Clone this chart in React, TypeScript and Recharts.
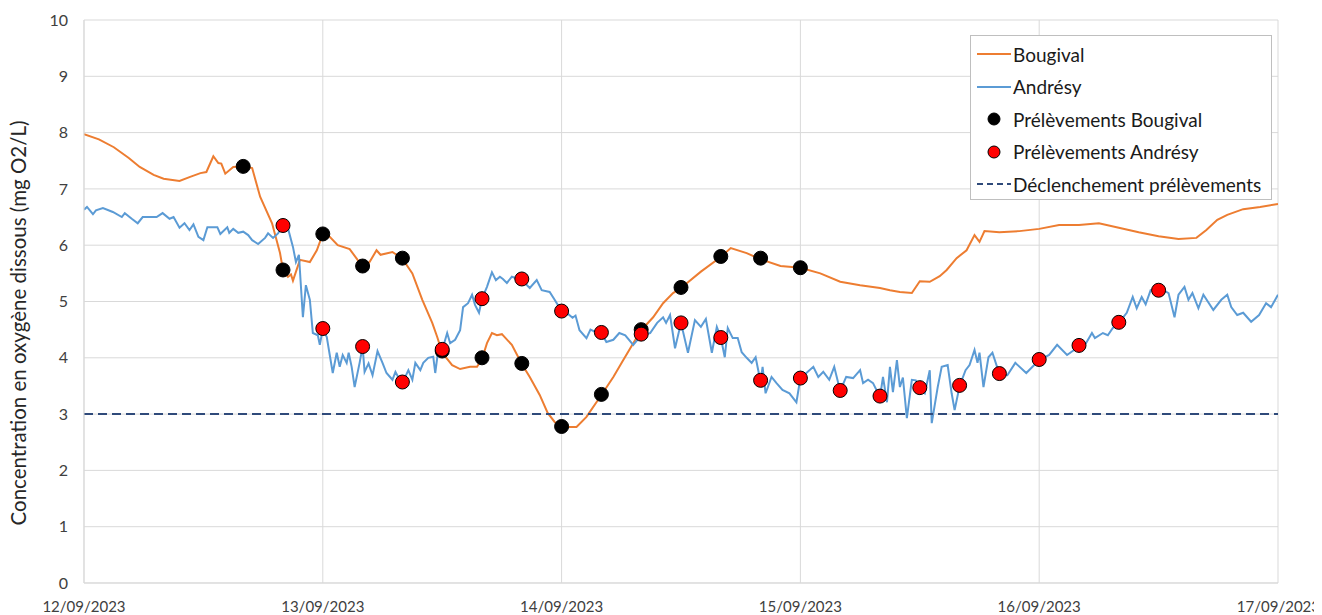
import React from 'react';
import {
  ComposedChart, Line, Scatter, XAxis, YAxis, CartesianGrid,
} from 'recharts';

// hours since 12/09/2023 00:00
const dayTicks = [0, 24, 48, 72, 96, 120];
const dayLabels = ['12/09/2023', '13/09/2023', '14/09/2023', '15/09/2023', '16/09/2023', '17/09/2023'];
const yTicks = [0, 1, 2, 3, 4, 5, 6, 7, 8, 9, 10];

const bougivalHours = [
  0, 1.5, 3, 4.5, 5.6, 7, 8, 9.6, 10.6, 11.7, 12.3, 13, 13.5, 13.8, 14.2, 15, 16, 16.9, 17.7, 18.9,
  19.7, 20, 20.5, 20.8, 21, 21.7, 22.7, 23.4, 24, 24.7, 25.5, 26.7, 28, 28.7, 29.4, 29.8, 31, 32, 33, 34,
  35, 35.5, 36, 37, 37.8, 38.8, 39.5, 40, 40.5, 41, 41.5, 42, 43, 44, 44.8, 45.8, 46.6, 47.3, 48, 49.5,
  50.5, 52, 53.2, 54.2, 55.2, 56, 57.2, 58.2, 59.2, 60, 62, 64, 65, 66.6, 68, 70, 72, 74, 76, 78,
  80, 81, 82, 83.2, 84, 85, 86, 86.7, 87.7, 88.7, 89.5, 90, 90.5, 92, 94, 96, 98, 100, 102, 104,
  106, 108, 110, 111.8, 112.8, 113.9, 114.9, 116.5, 118.2, 120,
];
const bougivalValues = [
  7.97, 7.88, 7.74, 7.55, 7.39, 7.25, 7.18, 7.14, 7.21, 7.28, 7.3, 7.58, 7.46, 7.45, 7.27, 7.39, 7.4, 7.37, 6.86, 6.39,
  5.86, 5.56, 5.44, 5.48, 5.37, 5.74, 5.7, 5.91, 6.2, 6.15, 6.0, 5.93, 5.62, 5.7, 5.91, 5.83, 5.88, 5.76, 5.5, 5.03,
  4.62, 4.37, 4.09, 3.87, 3.8, 3.84, 3.84, 3.98, 4.26, 4.44, 4.4, 4.42, 4.23, 3.89, 3.66, 3.34, 3.02, 2.86, 2.77, 2.77,
  2.95, 3.34, 3.66, 3.96, 4.26, 4.49, 4.72, 4.97, 5.15, 5.24, 5.53, 5.79, 5.95, 5.86, 5.75, 5.63, 5.6, 5.5, 5.35, 5.29,
  5.24, 5.2, 5.17, 5.15, 5.36, 5.35, 5.45, 5.56, 5.77, 5.91, 6.18, 6.06, 6.25, 6.23, 6.25, 6.29, 6.36, 6.36, 6.39, 6.31,
  6.23, 6.16, 6.11, 6.13, 6.27, 6.45, 6.54, 6.64, 6.68, 6.73,
];

const andresyHours = [
  0, 0.3, 0.9, 1.2, 1.9, 2.9, 3.8, 4.1, 4.8, 5.4, 5.9, 7.3, 7.9, 8.6, 9, 9.6, 10.1, 10.6, 11, 11.5,
  12, 12.4, 13.4, 13.7, 14.4, 14.6, 15, 15.5, 16, 16.5, 16.9, 17.5, 18.2, 18.5, 19, 19.5, 20, 20.5, 21, 21.3,
  21.6, 22, 22.3, 22.7, 23, 23.5, 23.7, 24, 24.4, 25, 25.4, 25.7, 26, 26.4, 26.6, 26.9, 27.2, 27.7, 28, 28.2,
  28.6, 29, 29.5, 30, 30.4, 31, 31.3, 31.6, 32, 32.6, 33, 33.3, 33.8, 34.1, 34.6, 35.1, 35.3, 35.6, 36, 36.5,
  36.8, 37.3, 37.8, 38.1, 38.6, 39, 39.3, 39.7, 40, 40.5, 41, 41.4, 41.8, 42.1, 42.5, 43, 44, 44.8, 45.5, 46,
  46.8, 47.3, 48, 48.5, 49.1, 49.4, 49.8, 50.5, 50.9, 51.5, 52, 52.5, 53.2, 53.8, 54.4, 55.2, 56, 56.9, 57.6, 58.2,
  58.5, 58.9, 59.4, 60, 60.7, 61.4, 62, 62.5, 63.1, 63.6, 64, 64.4, 64.7, 65.2, 65.7, 66.1, 66.6, 67.1, 67.5, 68,
  68.2, 68.5, 69.1, 69.6, 70.2, 70.9, 71.6, 72, 72.6, 73.3, 73.8, 74.3, 74.9, 75.4, 76, 76.6, 77.3, 78, 78.3, 78.8,
  79.3, 80, 80.3, 80.7, 81, 81.3, 81.7, 82, 82.3, 82.7, 83.2, 83.6, 84, 84.5, 85, 85.2, 85.8, 86.2, 86.8, 87.2,
  87.5, 88, 88.6, 89, 89.5, 89.8, 90, 90.4, 90.9, 91.3, 92, 92.8, 93.6, 94.7, 96, 97, 97.8, 98.8, 100, 100.7,
  101.3, 101.6, 102.4, 102.9, 103.4, 104, 104.8, 105.4, 105.8, 106.3, 106.7, 107.2, 108, 108.5, 109, 109.6, 110, 110.6, 111, 111.4,
  112, 112.5, 113.5, 114.3, 114.9, 115.3, 115.9, 116.5, 117.3, 118.1, 118.8, 119.3, 120,
];
const andresyValues = [
  6.63, 6.68, 6.55, 6.62, 6.66, 6.59, 6.5, 6.57, 6.47, 6.39, 6.5, 6.5, 6.57, 6.47, 6.5, 6.31, 6.39, 6.27, 6.37, 6.15,
  6.09, 6.32, 6.32, 6.2, 6.32, 6.22, 6.29, 6.22, 6.24, 6.18, 6.09, 6.02, 6.13, 6.21, 6.13, 6.21, 6.34, 6.3, 5.97, 5.7,
  5.83, 4.72, 5.29, 5.03, 4.44, 4.4, 4.23, 4.51, 4.37, 3.73, 4.09, 3.84, 4.05, 3.91, 4.09, 3.84, 3.48, 3.91, 4.2, 3.75,
  3.9, 3.69, 4.12, 3.91, 3.73, 3.61, 3.75, 3.65, 3.55, 3.78, 3.61, 3.91, 3.78, 3.91, 4.0, 4.02, 3.73, 4.14, 4.14, 4.44,
  4.26, 4.32, 4.49, 4.9, 4.97, 5.12, 4.94, 4.8, 5.05, 5.26, 5.52, 5.38, 5.44, 5.4, 5.33, 5.44, 5.38, 5.24, 5.38, 5.2,
  5.17, 5.03, 4.83, 4.8, 4.71, 4.75, 4.49, 4.35, 4.5, 4.45, 4.44, 4.28, 4.32, 4.44, 4.4, 4.23, 4.4, 4.44, 4.62, 4.72,
  4.62, 4.76, 4.17, 4.62, 4.09, 4.67, 4.55, 4.69, 4.09, 4.55, 4.36, 4.01, 4.53, 4.35, 4.35, 4.1, 4.0, 3.91, 4.01, 3.57,
  3.84, 3.37, 3.66, 3.55, 3.43, 3.37, 3.21, 3.64, 3.73, 3.84, 3.66, 3.75, 3.61, 3.84, 3.41, 3.66, 3.64, 3.78, 3.55, 3.61,
  3.55, 3.3, 3.66, 3.21, 3.84, 3.39, 3.96, 3.48, 3.65, 2.93, 3.61, 3.6, 3.45, 3.37, 3.78, 2.84, 3.48, 3.84, 3.87, 3.37,
  3.07, 3.5, 3.78, 3.87, 4.14, 3.91, 4.09, 3.48, 4.01, 4.09, 3.71, 3.69, 3.91, 3.73, 3.96, 4.05, 4.23, 4.05, 4.2, 4.26,
  4.44, 4.35, 4.44, 4.4, 4.53, 4.62, 4.8, 5.08, 4.88, 5.08, 4.95, 5.2, 5.17, 5.2, 5.15, 4.72, 5.12, 5.26, 5.03, 5.15,
  4.88, 5.12, 4.85, 5.03, 5.12, 4.9, 4.76, 4.8, 4.64, 4.76, 4.97, 4.9, 5.12,
];

const bougivalSampleHours = [16, 20, 24, 28, 32, 36, 40, 44, 48, 52, 56, 60, 64, 68, 72];
const bougivalSampleValues = [7.4, 5.56, 6.2, 5.63, 5.77, 4.12, 4.0, 3.9, 2.78, 3.35, 4.5, 5.25, 5.8, 5.77, 5.6];

const andresySampleHours = [20, 24, 28, 32, 36, 40, 44, 48, 52, 56, 60, 64, 68, 72, 76, 80, 84, 88, 92, 96, 100, 104, 108];
const andresySampleValues = [6.35, 4.52, 4.2, 3.57, 4.15, 5.05, 5.4, 4.83, 4.45, 4.42, 4.62, 4.36, 3.6, 3.64, 3.42, 3.32, 3.47, 3.51, 3.72, 3.97, 4.22, 4.63, 5.2];

const thresholdHours = [0, 120];
const thresholdValue = 3;

const zip = (hs: number[], vs: number[]) => hs.map((h, i) => ({ h, v: vs[i] }));

const bougival = zip(bougivalHours, bougivalValues);
const andresy = zip(andresyHours, andresyValues);
const bougivalSamples = zip(bougivalSampleHours, bougivalSampleValues);
const andresySamples = zip(andresySampleHours, andresySampleValues);
const threshold = thresholdHours.map((h) => ({ h, v: thresholdValue }));

const ORANGE = '#ED7D31';
const BLUE = '#5B9BD5';
const NAVY = '#2F4A7A';
const FONT = 'Lato, "Open Sans", sans-serif';

const dotShape = (fill: string) => (props: any) => (
  <circle cx={props.cx} cy={props.cy} r={7} fill={fill} stroke="#000" strokeWidth={1} />
);

// date tick; the last one is right-aligned so it stays inside the page
const DateTick = (props: any) => {
  const { x, y, payload, index } = props;
  const last = index === dayTicks.length - 1;
  return (
    <text
      x={last ? x + 42 : x}
      y={y}
      dy="0.71em"
      textAnchor={last ? 'end' : 'middle'}
      fill="#404040"
      fontSize={15}
      fontFamily={FONT}
    >
      {dayLabels[dayTicks.indexOf(payload.value)]}
    </text>
  );
};

const legendItems = [
  { name: 'Bougival', kind: 'line', color: ORANGE },
  { name: 'Andrésy', kind: 'line', color: BLUE },
  { name: 'Prélèvements Bougival', kind: 'dot', color: '#000' },
  { name: 'Prélèvements Andrésy', kind: 'dot', color: '#FF0000' },
  { name: 'Déclenchement prélèvements', kind: 'dash', color: NAVY },
];

const ChartLegend = () => (
  <div
    style={{
      position: 'absolute', left: 962, top: 27, width: 302, height: 165,
      background: '#fff', border: '1px solid #bfbfbf', boxSizing: 'border-box',
      fontFamily: FONT, fontSize: 19, color: '#1a1a1a',
    }}
  >
    {legendItems.map((it, i) => (
      <div key={it.name} style={{ position: 'absolute', left: 0, top: 18 + i * 32.5 - 12, height: 24, display: 'flex', alignItems: 'center' }}>
        <svg width={42} height={24} style={{ display: 'block' }}>
          {it.kind === 'line' && <line x1={6} x2={40} y1={12} y2={12} stroke={it.color} strokeWidth={2} />}
          {it.kind === 'dash' && <line x1={6} x2={40} y1={12} y2={12} stroke={it.color} strokeWidth={2} strokeDasharray="6 4" />}
          {it.kind === 'dot' && <circle cx={23} cy={12} r={6} fill={it.color} stroke="#000" strokeWidth={1} />}
        </svg>
        <span style={{ whiteSpace: 'nowrap' }}>{it.name}</span>
      </div>
    ))}
  </div>
);

export default function App() {
  return (
    <div style={{ position: 'relative', width: 1314, height: 607 }}>
      <style>{'html{overflow:hidden}'}</style>
      <ComposedChart width={1314} height={607} margin={{ top: 12, right: 44, bottom: 0, left: 0 }}>
        <CartesianGrid stroke="#d9d9d9" strokeWidth={1} />
        <XAxis
          dataKey="h"
          type="number"
          domain={[0, 120]}
          ticks={dayTicks}
          height={32}
          tickLine={false}
          tickSize={0}
          tickMargin={18}
          axisLine={{ stroke: '#d9d9d9' }}
          tick={<DateTick />}
          interval={0}
          allowDataOverflow
        />
        <YAxis
          type="number"
          domain={[0, 10]}
          ticks={yTicks}
          width={76}
          tickLine={false}
          tickSize={0}
          tickMargin={16}
          axisLine={{ stroke: '#d9d9d9' }}
          tick={{ fill: '#404040', fontSize: 16, fontFamily: FONT }}
        />
        <Line data={bougival} dataKey="v" type="linear" stroke={ORANGE} strokeWidth={2} dot={false} isAnimationActive={false} />
        <Line data={andresy} dataKey="v" type="linear" stroke={BLUE} strokeWidth={2} dot={false} isAnimationActive={false} />
        <Scatter data={bougivalSamples} dataKey="v" shape={dotShape('#000')} isAnimationActive={false} />
        <Scatter data={andresySamples} dataKey="v" shape={dotShape('#FF0000')} isAnimationActive={false} />
        <Line data={threshold} dataKey="v" type="linear" stroke={NAVY} strokeWidth={2} strokeDasharray="9 5" dot={false} isAnimationActive={false} />
      </ComposedChart>
      <div
        style={{
          position: 'absolute', left: 10, top: 315,
          transform: 'translate(-50%, -50%) rotate(-90deg)',
          whiteSpace: 'nowrap', fontFamily: FONT, fontSize: 20.5, lineHeight: 1, color: '#262626',
        }}
      >
        Concentration en oxygène dissous (mg O2/L)
      </div>
      <ChartLegend />
    </div>
  );
}
